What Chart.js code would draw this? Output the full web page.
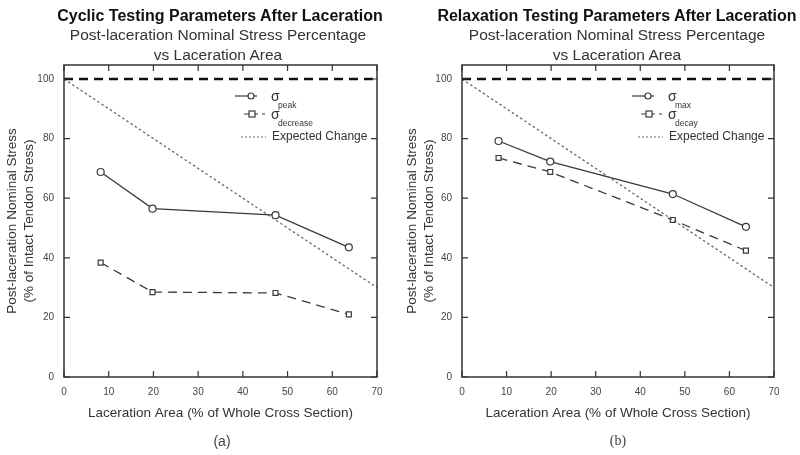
<!DOCTYPE html>
<html>
<head>
<meta charset="utf-8">
<script src="https://cdn.jsdelivr.net/npm/chart.js@4.4.0/dist/chart.umd.min.js"></script>
<style>
body { margin:0; background:#fff; width:800px; height:455px; overflow:hidden; position:relative; font-family:"Liberation Sans", Arial, sans-serif; }
canvas { position:absolute; top:0; }
.txt { position:absolute; width:400px; text-align:center; white-space:nowrap; color:#222; }
.ttl { font-size:16px; font-weight:bold; top:7px; color:#111; }
.sub { font-size:15.5px; line-height:20px; top:25px; color:#333; }
.cap { font-size:14px; top:433px; color:#444; }
</style>
</head>
<body>
<canvas id="chart-a" width="400" height="455" style="left:0"></canvas>
<canvas id="chart-b" width="400" height="455" style="left:400px"></canvas>

<div class="txt ttl" style="left:20px">Cyclic Testing Parameters After Laceration</div>
<div class="txt sub" style="left:18px">Post-laceration Nominal Stress Percentage<br>vs Laceration Area</div>
<div class="txt cap" style="left:22px">(a)</div>

<div class="txt ttl" style="left:417px">Relaxation Testing Parameters After Laceration</div>
<div class="txt sub" style="left:417px">Post-laceration Nominal Stress Percentage<br>vs Laceration Area</div>
<div class="txt cap" style="left:418px;font-family:'Liberation Serif'">(b)</div>

<script>
// data
var laceration = [8.2, 19.8, 47.3, 63.7];
var cyclicPeak = [68.8, 56.5, 54.3, 43.5];
var cyclicDecrease = [38.4, 28.5, 28.2, 21.0];
var relaxMax = [79.2, 72.3, 61.4, 50.4];
var relaxDecay = [73.5, 68.8, 52.7, 42.4];
var expectedX = [0, 70];
var expectedY = [100, 30];
var intactY = [100, 100];
var xTicks = [0, 10, 20, 30, 40, 50, 60, 70];
var yTicks = [0, 20, 40, 60, 80, 100];

var lineColor = "#3a3a3a";

function points(xs, ys) {
  return xs.map(function (x, i) { return { x: x, y: ys[i] }; });
}

// box round the plot with inward ticks on all sides
var framePlugin = {
  id: "frame",
  afterDatasetsDraw: function (chart) {
    var c = chart.ctx, a = chart.chartArea;
    var sx = chart.scales.x, sy = chart.scales.y;
    c.save();
    c.strokeStyle = "#333";
    c.lineWidth = 1.5;
    c.strokeRect(a.left, a.top, a.right - a.left, a.bottom - a.top);
    c.lineWidth = 1.2;
    c.beginPath();
    xTicks.forEach(function (v) {
      var px = sx.getPixelForValue(v);
      c.moveTo(px, a.bottom); c.lineTo(px, a.bottom - 6);
      c.moveTo(px, a.top); c.lineTo(px, a.top + 6);
    });
    yTicks.forEach(function (v) {
      var py = sy.getPixelForValue(v);
      c.moveTo(a.left, py); c.lineTo(a.left + 6, py);
      c.moveTo(a.right, py); c.lineTo(a.right - 6, py);
    });
    c.stroke();
    c.restore();
  }
};

// legend with subscripted sigma labels
var sigmaLegend = {
  id: "sigmaLegend",
  afterDatasetsDraw: function (chart, args, opts) {
    var c = chart.ctx, a = chart.chartArea;
    var r = a.right, t = a.top;
    c.save();
    c.strokeStyle = lineColor;
    c.fillStyle = "#fff";
    c.lineWidth = 1.2;

    // solid with circle
    var y1 = t + 31;
    c.beginPath(); c.moveTo(r - 142, y1); c.lineTo(r - 120, y1); c.stroke();
    c.beginPath(); c.arc(r - 126, y1, 3, 0, Math.PI * 2); c.fill(); c.stroke();

    // dashed with square
    var y2 = t + 49;
    c.setLineDash([5, 4]);
    c.beginPath(); c.moveTo(r - 133, y2); c.lineTo(r - 112, y2); c.stroke();
    c.setLineDash([]);
    c.fillRect(r - 128, y2 - 3, 6, 6);
    c.strokeRect(r - 128, y2 - 3, 6, 6);

    // dotted expected
    var y3 = t + 72;
    c.strokeStyle = "#666";
    c.setLineDash([2, 2]);
    c.beginPath(); c.moveTo(r - 136, y3); c.lineTo(r - 111, y3); c.stroke();
    c.setLineDash([]);

    c.fillStyle = "#333";
    c.textAlign = "left";
    c.textBaseline = "alphabetic";
    c.font = "14px 'Liberation Sans'";
    c.fillText("\u03c3", r - 106, y1 + 5);
    c.fillText("\u03c3", r - 106, y2 + 5);
    c.font = "8.5px 'Liberation Sans'";
    c.fillText(opts.sub1, r - 99, y1 + 12);
    c.fillText(opts.sub2, r - 99, y2 + 12);
    c.textBaseline = "middle";
    c.font = "12px 'Liberation Sans'";
    c.fillText("Expected Change", r - 105, y3);
    c.restore();
  }
};

function makeChart(id, s1, s2, sub1, sub2, leftEdge, rightPad) {
  var ctx = document.getElementById(id).getContext("2d");
  return new Chart(ctx, {
    type: "line",
    data: {
      datasets: [
        {
          data: points(expectedX, intactY),
          borderColor: "#111",
          borderWidth: 2.6,
          borderDash: [9, 6],
          pointRadius: 0
        },
        {
          data: points(expectedX, expectedY),
          borderColor: "#666",
          borderWidth: 1.3,
          borderDash: [2.5, 2.5],
          pointRadius: 0
        },
        {
          data: points(laceration, s1),
          borderColor: lineColor,
          borderWidth: 1.3,
          pointStyle: "circle",
          pointRadius: 3.5,
          pointBorderWidth: 1.2,
          pointBackgroundColor: "#fff",
          pointBorderColor: lineColor
        },
        {
          data: points(laceration, s2),
          borderColor: lineColor,
          borderWidth: 1.3,
          borderDash: [9, 6],
          pointStyle: "rect",
          pointRadius: 3.5,
          pointBorderWidth: 1.2,
          pointBackgroundColor: "#fff",
          pointBorderColor: lineColor
        }
      ]
    },
    options: {
      responsive: false,
      animation: false,
      layout: { padding: { top: 65, right: rightPad, bottom: 0, left: 0 } },
      scales: {
        x: {
          type: "linear",
          min: 0,
          max: 70,
          afterBuildTicks: function (s) { s.ticks = xTicks.map(function (v) { return { value: v }; }); },
          afterFit: function (s) { s.height = 78; },
          ticks: { padding: 9, color: "#444", font: { size: 10, family: "Liberation Sans" } },
          grid: { display: false, drawTicks: false },
          border: { display: false },
          title: {
            display: true,
            text: "Laceration Area (% of Whole Cross Section)",
            color: "#333",
            font: { size: 13.5, family: "Liberation Sans", lineHeight: 1.2 },
            padding: { top: 0, bottom: 34 }
          }
        },
        y: {
          type: "linear",
          min: 0,
          max: 104.7,
          afterBuildTicks: function (s) { s.ticks = yTicks.map(function (v) { return { value: v }; }); },
          afterFit: function (s) { s.width = leftEdge; },
          ticks: { padding: 10, color: "#444", font: { size: 10, family: "Liberation Sans" } },
          grid: { display: false, drawTicks: false },
          border: { display: false },
          title: {
            display: true,
            text: ["Post-laceration Nominal Stress", "(% of Intact Tendon Stress)"],
            color: "#333",
            font: { size: 13.5, family: "Liberation Sans", lineHeight: "17px" },
            padding: { top: 4, bottom: 0 }
          }
        }
      },
      plugins: {
        legend: { display: false },
        tooltip: { enabled: false },
        sigmaLegend: { sub1: sub1, sub2: sub2 }
      }
    },
    plugins: [framePlugin, sigmaLegend]
  });
}

makeChart("chart-a", cyclicPeak, cyclicDecrease, "peak", "decrease", 64, 23);
makeChart("chart-b", relaxMax, relaxDecay, "max", "decay", 62, 26);
</script>
</body>
</html>
